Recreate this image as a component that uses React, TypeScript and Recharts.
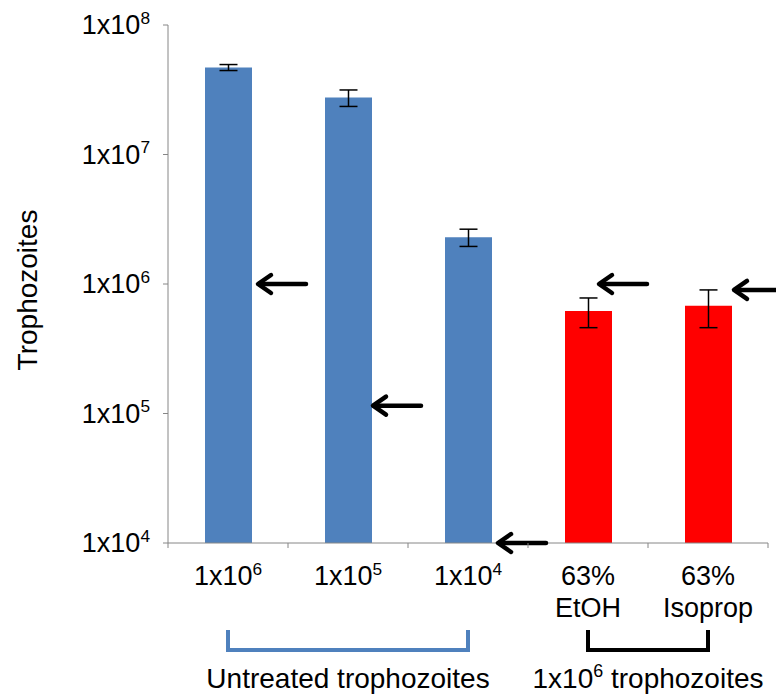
import React from 'react';
import { ComposedChart, Bar, Scatter, XAxis, YAxis, ErrorBar, Label } from 'recharts';

// categories, as tick labels ("^" = superscript, "\n" = new line)
const categories = ['1x10^6', '1x10^5', '1x10^4', '63%\nEtOH', '63%\nIsoprop'];
const counts = [4.7e7, 2.75e7, 2.3e6, 6.2e5, 6.8e5];
const errors = [0.25e7, 0.4e7, 0.35e6, 1.6e5, 2.2e5];
const colorsByBar = ['#4f81bd', '#4f81bd', '#4f81bd', '#ff0000', '#ff0000'];
// arrows mark the inoculum level of each sample
const arrowLevels = [1e6, 1.15e5, 1e4, 1e6, 9e5];
const yTicks = [1e4, 1e5, 1e6, 1e7, 1e8];
const groups = [
  { label: 'Untreated trophozoites', first: 0, last: 2, color: '#4f81bd' },
  { label: '1x10^6 trophozoites', first: 3, last: 4, color: '#000000' },
];

// layout
const W = 776;
const H = 694;
const LEFT = 168;
const RIGHT = 8;
const BAND = (W - LEFT - RIGHT) / categories.length;
const ARROW_DX = [30, 25, 30, 11, 26];
const AXIS = '#868686';
const FONT = '"Liberation Sans", Arial, sans-serif';

const data = categories.map((name, i) => ({
  name,
  count: counts[i],
  err: errors[i],
  arrow: arrowLevels[i],
  fill: colorsByBar[i],
}));

// "1x10^6 rest" -> 1x10 + superscript 6 + " rest"
const Sup = ({ text, size }: { text: string; size: number }) => {
  const m = text.match(/^([^^]*)\^(\S+)(.*)$/);
  if (!m) return <tspan>{text}</tspan>;
  const shift = size * 0.38;
  return (
    <>
      <tspan>{m[1]}</tspan>
      <tspan dy={-shift} fontSize={size * 0.64}>{m[2]}</tspan>
      {m[3] && <tspan dy={shift} style={{ whiteSpace: 'pre' }}>{m[3]}</tspan>}
    </>
  );
};

const YTick = ({ x, y, payload }: any) => {
  const exp = Math.round(Math.log10(payload.value));
  return (
    <text x={x} y={y + 9} textAnchor="end" fontSize={27} fontFamily={FONT} fill="#000">
      <Sup text={`1x10^${exp}`} size={27} />
    </text>
  );
};

const XTick = ({ x, y, payload, index }: any) => {
  const lines = String(payload.value).split('\n');
  const group = groups.find((g) => g.first === index);
  return (
    <g>
      <line x1={x + BAND / 2} x2={x + BAND / 2} y1={y} y2={y + 5} stroke={AXIS} strokeWidth={1} />
      {index === 0 && <line x1={x - BAND / 2} x2={x - BAND / 2} y1={y} y2={y + 5} stroke={AXIS} strokeWidth={1} />}
      {lines.map((ln, i) => (
        <text key={i} x={x} y={y + 42 + i * 32} textAnchor="middle" fontSize={27} fontFamily={FONT} fill="#000">
          <Sup text={ln} size={27} />
        </text>
      ))}
      {group && (() => {
        const x2 = x + (group.last - group.first) * BAND;
        return (
          <g>
            <path
              d={`M${x},${y + 87} L${x},${y + 107} L${x2},${y + 107} L${x2},${y + 87}`}
              fill="none"
              stroke={group.color}
              strokeWidth={4}
            />
            <text x={(x + x2) / 2} y={y + 145} textAnchor="middle" fontSize={28} fontFamily={FONT} fill="#000">
              <Sup text={group.label} size={28} />
            </text>
          </g>
        );
      })()}
    </g>
  );
};

const Arrow = (props: any) => {
  const { cx, cy, index } = props;
  const tx = cx + ARROW_DX[index];
  return (
    <g stroke="#000" strokeWidth={4.5} fill="none" strokeLinecap="round" strokeLinejoin="round">
      <line x1={tx + 1} y1={cy} x2={tx + 48} y2={cy} />
      <polyline points={`${tx + 13},${cy - 9} ${tx},${cy} ${tx + 13},${cy + 9}`} />
    </g>
  );
};

export default function App() {
  return (
    <div style={{ position: 'absolute', left: 0, top: 0, background: '#fff' }}>
      <ComposedChart width={W} height={H} data={data} margin={{ top: 25, right: RIGHT, left: 0, bottom: 0 }}>
        <XAxis
          dataKey="name"
          height={151}
          interval={0}
          tickLine={false}
          tickSize={0}
          tickMargin={0}
          stroke={AXIS}
          tick={<XTick />}
        />
        <YAxis
          scale="log"
          domain={[1e4, 1e8]}
          ticks={yTicks}
          width={LEFT}
          stroke={AXIS}
          tickSize={5}
          tickMargin={13}
          tick={<YTick />}
        >
          <Label
            content={() => (
              <text
                x={37}
                y={290}
                transform="rotate(-90, 37, 290)"
                textAnchor="middle"
                fontSize={28}
                fontFamily={FONT}
                fill="#000"
              >
                Trophozoites
              </text>
            )}
          />
        </YAxis>
        <Bar dataKey="count" barSize={47} isAnimationActive={false}>
          <ErrorBar dataKey="err" width={9} stroke="#000" strokeWidth={1.5} direction="y" />
        </Bar>
        <Scatter dataKey="arrow" shape={<Arrow />} isAnimationActive={false} />
      </ComposedChart>
    </div>
  );
}
